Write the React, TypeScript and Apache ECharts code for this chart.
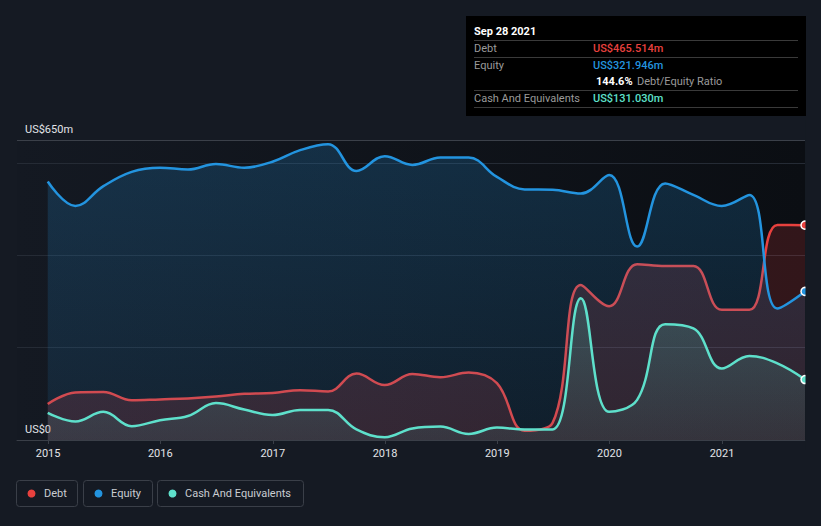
import React, { useEffect, useRef } from 'react';
import * as echarts from 'echarts';

// Reporting dates (quarter ends) and balance-sheet values in US$ millions
const dates = [
  '2014-12-31', '2015-03-31', '2015-06-30', '2015-09-30', '2015-12-31',
  '2016-03-31', '2016-06-30', '2016-09-30', '2016-12-31', '2017-03-31',
  '2017-06-30', '2017-09-30', '2017-12-31', '2018-03-31', '2018-06-30',
  '2018-09-30', '2018-12-31', '2019-03-31', '2019-06-30', '2019-09-30',
  '2019-12-31', '2020-03-31', '2020-06-30', '2020-09-30', '2020-12-31',
  '2021-03-31', '2021-06-30', '2021-09-28',
];
const debt = [
  78, 103, 104, 86, 88, 90, 94, 100, 102, 108, 105, 144, 119, 143, 136,
  146, 123, 20, 37, 336, 290, 381, 377, 377, 282, 282, 466, 465.514,
];
const equity = [
  560, 507, 550, 581, 590, 586, 598, 590, 603, 628, 641, 583, 615, 596, 612,
  612, 570, 543, 542, 534, 574, 419, 556, 531, 507, 531, 285, 321.946,
];
const cash = [
  59, 40, 61, 30, 43, 52, 80, 66, 54, 65, 65, 23, 6, 25, 29, 13, 27, 23, 23,
  307, 61, 87, 251, 242, 155, 182, 166, 131.03,
];
const yTickLabels: Record<number, string> = { 0: 'US$0', 650: 'US$650m' };

const COLORS = {
  debt: '#e8413e',
  equity: '#2394df',
  cash: '#5ee0cb',
};
const PAGE_BG = '#151a23';
const FONT = 'Roboto, "Noto Sans", sans-serif';
const FS = 11;
const MONTHS = ['Jan', 'Feb', 'Mar', 'Apr', 'May', 'Jun', 'Jul', 'Aug', 'Sep', 'Oct', 'Nov', 'Dec'];

function seriesData(values: number[], color: string) {
  return values.map((v, i) =>
    i === values.length - 1
      ? {
          value: [dates[i], v],
          symbol: 'circle',
          symbolSize: 8,
          itemStyle: { color, borderColor: '#ffffff', borderWidth: 1.5 },
        }
      : { value: [dates[i], v] }
  );
}

function fmtDate(s: string) {
  const [y, m, d] = s.split('-').map(Number);
  return `${MONTHS[m - 1]} ${d} ${y}`;
}

export default function App() {
  const ref = useRef<HTMLDivElement>(null);

  useEffect(() => {
    if (!ref.current) return;
    const chart = echarts.init(ref.current, undefined, { renderer: 'svg' });

    const last = dates.length - 1;
    const lastDebt = debt[last];
    const lastEquity = equity[last];
    const lastCash = cash[last];
    const ratio = ((lastDebt / lastEquity) * 100).toFixed(1);

    const rowLabel = (text: string, y: number) => ({
      type: 'text',
      x: 474,
      y,
      z: 101,
      style: { text, fill: '#9a9a9a', font: `${FS}px ${FONT}`, verticalAlign: 'middle' },
    });
    const rowValue = (text: string, y: number, fill: string) => ({
      type: 'text',
      x: 593,
      y,
      z: 101,
      style: { text, fill, font: `500 ${FS}px ${FONT}`, verticalAlign: 'middle' },
    });
    const sep = (y: number) => ({
      type: 'line',
      z: 101,
      shape: { x1: 474, y1: y, x2: 798, y2: y },
      style: { stroke: '#3a3a3a', lineWidth: 1 },
    });

    const legendItem = (x: number, w: number, label: string, color: string) => ({
      type: 'group',
      children: [
        {
          type: 'rect',
          shape: { x: x + 0.5, y: 480.5, width: w, height: 26, r: 3 },
          style: { fill: 'none', stroke: '#3a3f48', lineWidth: 1 },
        },
        {
          type: 'circle',
          shape: { cx: x + 15.5, cy: 493.5, r: 4 },
          style: { fill: color },
        },
        {
          type: 'text',
          x: x + 28,
          y: 493.5,
          style: { text: label, fill: '#c9cdd2', font: `${FS}px ${FONT}`, verticalAlign: 'middle' },
        },
      ],
    });

    const option = {
      animation: false,
      backgroundColor: PAGE_BG,
      textStyle: { fontFamily: FONT },
      grid: {
        left: 17,
        right: 16,
        top: 140,
        bottom: 86,
        containLabel: false,
        outerBoundsMode: 'none',
        show: true,
        borderWidth: 0,
        backgroundColor: new echarts.graphic.LinearGradient(0, 0, 1, 0, [
          { offset: 0, color: '#141922' },
          { offset: 1, color: '#0b0e13' },
        ]),
      },
      xAxis: {
        type: 'time',
        min: '2014-09-22',
        max: dates[last],
        splitNumber: 7,
        axisLine: { show: true, lineStyle: { color: '#3a3f48', width: 1 } },
        axisTick: { show: true, length: 4, lineStyle: { color: '#3a3f48' } },
        splitLine: { show: false },
        axisLabel: {
          formatter: '{yyyy}',
          color: '#e2e4e8',
          fontSize: FS,
          fontFamily: FONT,
          margin: 8,
          showMinLabel: false,
          showMaxLabel: false,
        },
      },
      yAxis: {
        type: 'value',
        min: 0,
        max: 650,
        interval: 200,
        axisLine: { show: false },
        axisTick: { show: false },
        splitLine: { show: true, lineStyle: { color: '#252b35', width: 1 } },
        axisLabel: {
          inside: true,
          margin: 8,
          verticalAlign: 'bottom',
          padding: [0, 0, 5, 0],
          color: '#e2e4e8',
          fontSize: FS,
          fontFamily: FONT,
          showMinLabel: true,
          showMaxLabel: true,
          formatter: (v: number) => yTickLabels[v] ?? '',
        },
      },
      series: [
        {
          name: 'Debt',
          type: 'line',
          z: 2,
          smooth: 0.4,
          symbol: 'none',
          showSymbol: true,
          clip: false,
          data: seriesData(debt, COLORS.debt),
          lineStyle: { color: COLORS.debt, width: 2.5 },
          itemStyle: { color: COLORS.debt },
          areaStyle: { color: 'rgba(232,65,62,0.25)', origin: 'start' },
        },
        {
          // drawn above the debt series so its fill tints the debt line where equity is higher
          name: 'Equity',
          type: 'line',
          z: 3,
          smooth: 0.4,
          symbol: 'none',
          showSymbol: true,
          clip: false,
          data: seriesData(equity, COLORS.equity),
          lineStyle: { color: COLORS.equity, width: 2.5 },
          itemStyle: { color: COLORS.equity },
          areaStyle: {
            origin: 'start',
            color: new echarts.graphic.LinearGradient(0, 0, 0, 1, [
              { offset: 0, color: 'rgba(35,148,223,0.30)' },
              { offset: 1, color: 'rgba(35,148,223,0.14)' },
            ]),
          },
          markLine: {
            silent: true,
            symbol: 'none',
            label: { show: false },
            lineStyle: { color: '#3b4049', width: 1, type: 'solid' },
            data: [{ yAxis: 650 }],
          },
        },
        {
          name: 'Cash And Equivalents',
          type: 'line',
          z: 4,
          smooth: 0.4,
          symbol: 'none',
          showSymbol: true,
          clip: false,
          data: seriesData(cash, COLORS.cash),
          lineStyle: { color: COLORS.cash, width: 2.5 },
          itemStyle: { color: COLORS.cash },
          areaStyle: {
            origin: 'start',
            color: new echarts.graphic.LinearGradient(0, 0, 0, 1, [
              { offset: 0, color: 'rgba(94,224,203,0.28)' },
              { offset: 1, color: 'rgba(94,224,203,0.12)' },
            ]),
          },
        },
      ],
      graphic: [
        // right margin strip: end markers sit on the plot edge
        {
          type: 'rect',
          z: 50,
          shape: { x: 805.5, y: 120, width: 20, height: 330 },
          style: { fill: PAGE_BG },
        },
        // summary box for the latest reporting date
        {
          type: 'rect',
          z: 100,
          shape: { x: 466, y: 16, width: 340, height: 100 },
          style: { fill: '#000000' },
        },
        {
          type: 'text',
          x: 474,
          y: 31,
          z: 101,
          style: {
            text: fmtDate(dates[last]),
            fill: '#ffffff',
            font: `bold ${FS}px ${FONT}`,
            verticalAlign: 'middle',
          },
        },
        sep(40.5),
        rowLabel('Debt', 48.5),
        rowValue(`US$${lastDebt.toFixed(3)}m`, 48.5, COLORS.debt),
        sep(57.5),
        rowLabel('Equity', 65),
        rowValue(`US$${lastEquity.toFixed(3)}m`, 65, COLORS.equity),
        {
          type: 'text',
          x: 596,
          y: 81,
          z: 101,
          style: {
            text: `${ratio}%`,
            fill: '#ffffff',
            font: `bold ${FS}px ${FONT}`,
            verticalAlign: 'middle',
          },
        },
        {
          type: 'text',
          x: 637,
          y: 81,
          z: 101,
          style: {
            text: 'Debt/Equity Ratio',
            fill: '#9a9a9a',
            font: `${FS}px ${FONT}`,
            verticalAlign: 'middle',
          },
        },
        sep(90.5),
        rowLabel('Cash And Equivalents', 98.5),
        rowValue(`US$${lastCash.toFixed(3)}m`, 98.5, COLORS.cash),
        sep(107.5),
        // legend
        legendItem(16, 61, 'Debt', COLORS.debt),
        legendItem(83, 69, 'Equity', COLORS.equity),
        legendItem(157, 146, 'Cash And Equivalents', COLORS.cash),
      ],
    };

    chart.setOption(option as any);
    return () => chart.dispose();
  }, []);

  return (
    <div
      style={{
        position: 'fixed',
        left: 0,
        top: 0,
        width: 821,
        height: 526,
        background: PAGE_BG,
      }}
    >
      <div ref={ref} style={{ width: 821, height: 526 }} />
    </div>
  );
}
